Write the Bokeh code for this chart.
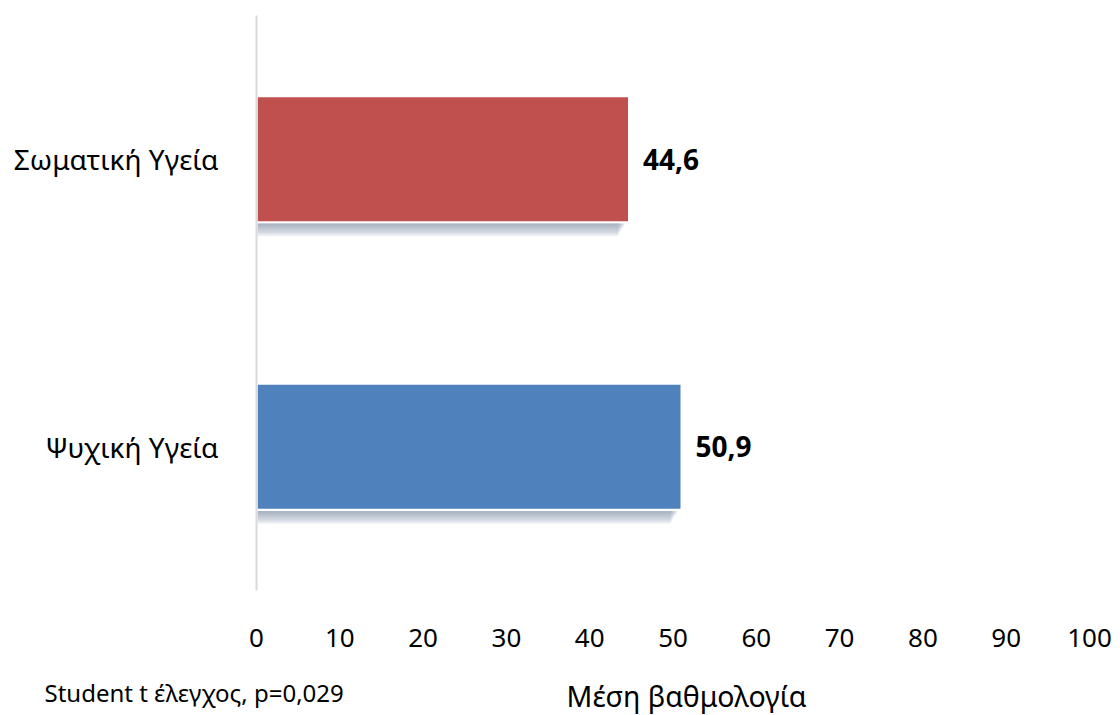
from bokeh.plotting import figure
from bokeh.layouts import column
from bokeh.models import FactorRange, Range1d, ColumnDataSource, Label, SingleIntervalTicker
from bokeh.transform import dodge
from bokeh.core.properties import value
from bokeh.embed import file_html
from bokeh.resources import INLINE

# Mean scores per health dimension (bottom-to-top order on the axis)
categories = ["Ψυχική Υγεία", "Σωματική Υγεία"]
scores = [50.9, 44.6]
bar_colors = ["#4F81BD", "#C0504D"]
score_labels = [f"{v:.1f}".replace(".", ",") for v in scores]

x_title = "Μέση βαθμολογία"
footnote = "Student t έλεγχος, p=0,029"

FONT = "Noto Sans"

p = figure(
    width=1120, height=660,
    y_range=FactorRange(factors=categories),
    x_range=Range1d(0, 100),
    output_backend="svg", toolbar_location=None,
    min_border_left=256, min_border_right=31,
    min_border_top=15, min_border_bottom=70,
)
p.outline_line_color = None
p.xgrid.grid_line_color = None
p.ygrid.grid_line_color = None
p.background_fill_color = "white"
p.border_fill_color = "white"

bar_h = 0.431
src = ColumnDataSource(dict(
    cat=categories, val=scores, color=bar_colors, label=score_labels,
))

# soft drop shadow under each bar: stacked translucent strips,
# darkest right under the bar and fading downward / toward the end
shadow_top = -bar_h / 2 - 0.008
depths = [0.044, 0.039, 0.033, 0.027, 0.021, 0.015, 0.010, 0.005]
for k, depth in enumerate(depths):
    shrink = [v - 1.2 + 0.12 * k for v in scores]
    sh_src = ColumnDataSource(dict(cat=categories, right=shrink))
    p.hbar(y=dodge("cat", shadow_top - depth / 2, range=p.y_range),
           left=0.15, right="right", height=depth, source=sh_src,
           fill_color="#8291ab", fill_alpha=0.13, line_color=None)

p.hbar(y="cat", left=0.15, right="val", height=bar_h, source=src,
       fill_color="color", line_color=None)

p.text(x="val", y="cat", text="label", source=src, x_offset=15,
       text_baseline="middle", text_align="left",
       text_font=value(FONT), text_font_style="bold",
       text_font_size="28px", text_color="black")

# axes
p.yaxis.axis_line_color = "#d9d9d9"
p.yaxis.axis_line_width = 2
p.yaxis.major_tick_line_color = None
p.yaxis.minor_tick_line_color = None
p.yaxis.major_label_standoff = 32
p.yaxis.major_label_text_font = FONT
p.yaxis.major_label_text_font_size = "28px"
p.yaxis.major_label_text_color = "black"

p.xaxis.ticker = SingleIntervalTicker(interval=10)
p.xaxis.axis_line_color = None
p.xaxis.major_tick_line_color = None
p.xaxis.minor_tick_line_color = None
p.xaxis.major_label_standoff = 32
p.xaxis.major_label_text_font = FONT
p.xaxis.major_label_text_font_size = "26px"
p.xaxis.major_label_text_color = "black"

# strip underneath holding the axis title and the test note
notes = figure(
    width=1120, height=55,
    x_range=Range1d(0, 1120), y_range=Range1d(0, 55),
    x_axis_type=None, y_axis_type=None,
    output_backend="svg", toolbar_location=None,
    min_border_left=0, min_border_right=0, min_border_top=0, min_border_bottom=0,
)
notes.outline_line_color = None
notes.xgrid.grid_line_color = None
notes.ygrid.grid_line_color = None
notes.background_fill_color = "white"
notes.border_fill_color = "white"

notes.add_layout(Label(x=686, y=20, x_units="screen", y_units="screen",
                       text=x_title, text_align="center", text_baseline="middle",
                       text_font=FONT, text_font_size="28.5px", text_color="black"))
notes.add_layout(Label(x=44, y=23, x_units="screen", y_units="screen",
                       text=footnote, text_align="left", text_baseline="middle",
                       text_font=FONT, text_font_size="24px", text_color="black"))

# nested column keeps the note strip's frame independent of the chart's borders
layout = column(p, column(notes), spacing=0)
open("out.html", "w").write(file_html(layout, INLINE))
